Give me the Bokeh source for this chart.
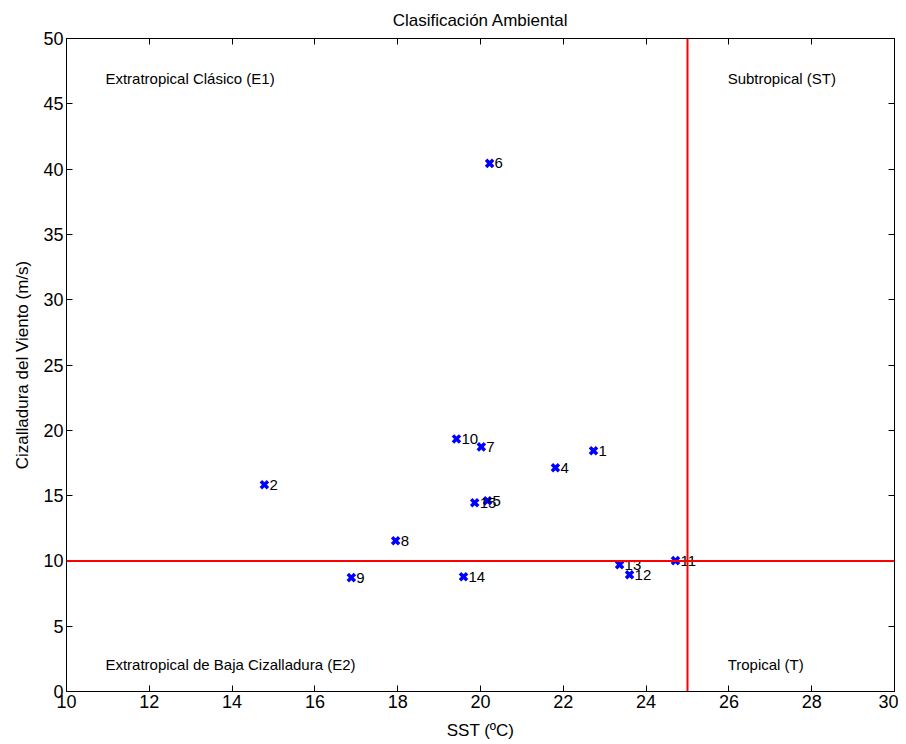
from bokeh.plotting import figure
from bokeh.models import ColumnDataSource, Span, LinearAxis, FixedTicker, Range1d
from bokeh.core.properties import value
from bokeh.embed import file_html
from bokeh.resources import INLINE

# data
ids = ["1", "2", "4", "5", "6", "7", "8", "9", "10", "11", "12", "13", "14", "15"]
sst = [22.73, 14.78, 21.81, 20.17, 20.22, 20.02, 17.95, 16.88, 19.42, 24.71, 23.60, 23.36, 19.59, 19.86]
shear = [18.43, 15.83, 17.13, 14.60, 40.44, 18.73, 11.54, 8.72, 19.34, 10.02, 8.94, 9.71, 8.79, 14.45]

sst_threshold = 25
shear_threshold = 10

region_names = ["Extratropical Clásico (E1)", "Subtropical (ST)",
                "Extratropical de Baja Cizalladura (E2)", "Tropical (T)"]
region_x = [10.94, 25.97, 10.94, 25.97]
region_y = [46.9, 46.9, 2.05, 2.05]

x_ticks = [10, 12, 14, 16, 18, 20, 22, 24, 26, 28, 30]
y_ticks = [0, 5, 10, 15, 20, 25, 30, 35, 40, 45, 50]

FONT = "Liberation Sans"

p = figure(width=898, height=742, output_backend="svg", toolbar_location=None,
           x_range=Range1d(10, 30), y_range=Range1d(0, 50),
           min_border_left=66, min_border_right=4, min_border_top=37, min_border_bottom=45)
p.title.text = "Clasificación Ambiental"
p.title.align = "center"
p.title.text_font = FONT
p.title.text_font_size = "17px"
p.title.text_font_style = "normal"
p.title.text_color = "black"
p.title.offset = 0
p.title.standoff = 17
p.grid.visible = False
p.outline_line_color = "black"
p.outline_line_width = 1
p.background_fill_color = "white"
p.border_fill_color = "white"

for ax in [p.xaxis[0], p.yaxis[0]]:
    ax.major_tick_in = 6
    ax.major_tick_out = 0
    ax.minor_tick_line_color = None
    ax.axis_line_color = "black"
    ax.major_tick_line_color = "black"
    ax.major_label_text_font = FONT
    ax.major_label_text_font_size = "18px"
    ax.major_label_text_color = "black"
    ax.axis_label_text_font = FONT
    ax.axis_label_text_font_size = "17px"
    ax.axis_label_text_font_style = "normal"
    ax.axis_label_text_color = "black"
    ax.major_label_standoff = 3

p.xaxis.ticker = FixedTicker(ticks=x_ticks)
p.yaxis.ticker = FixedTicker(ticks=y_ticks)
p.xaxis.axis_label = "SST (ºC)"
p.yaxis.axis_label = "Cizalladura del Viento (m/s)"
p.xaxis.axis_label_standoff = 10
p.yaxis.axis_label_standoff = 8

top = LinearAxis(ticker=FixedTicker(ticks=x_ticks),
                 major_label_overrides={t: "" for t in x_ticks},
                 major_tick_in=6, major_tick_out=0, minor_tick_line_color=None,
                 axis_line_color="black", major_tick_line_color="black")
right = LinearAxis(ticker=FixedTicker(ticks=y_ticks),
                   major_label_overrides={t: "" for t in y_ticks},
                   major_tick_in=6, major_tick_out=0, minor_tick_line_color=None,
                   axis_line_color="black", major_tick_line_color="black")
p.add_layout(top, "above")
p.add_layout(right, "right")

p.add_layout(Span(location=sst_threshold, dimension="height", line_color="red", line_width=2))
p.add_layout(Span(location=shear_threshold, dimension="width", line_color="red", line_width=2))

src = ColumnDataSource(dict(x=sst, y=shear, label=ids))
p.scatter("x", "y", source=src, marker="x", size=10, line_color="blue", line_width=3.5)
p.text("x", "y", text="label", source=src, x_offset=5, text_baseline="middle",
       text_font=value(FONT), text_font_size="15px", text_color="black")

rsrc = ColumnDataSource(dict(x=region_x, y=region_y, t=region_names))
p.text("x", "y", text="t", source=rsrc, text_baseline="middle",
       text_font=value(FONT), text_font_size="15px", text_color="black")

open("out.html", "w").write(file_html(p, INLINE))
